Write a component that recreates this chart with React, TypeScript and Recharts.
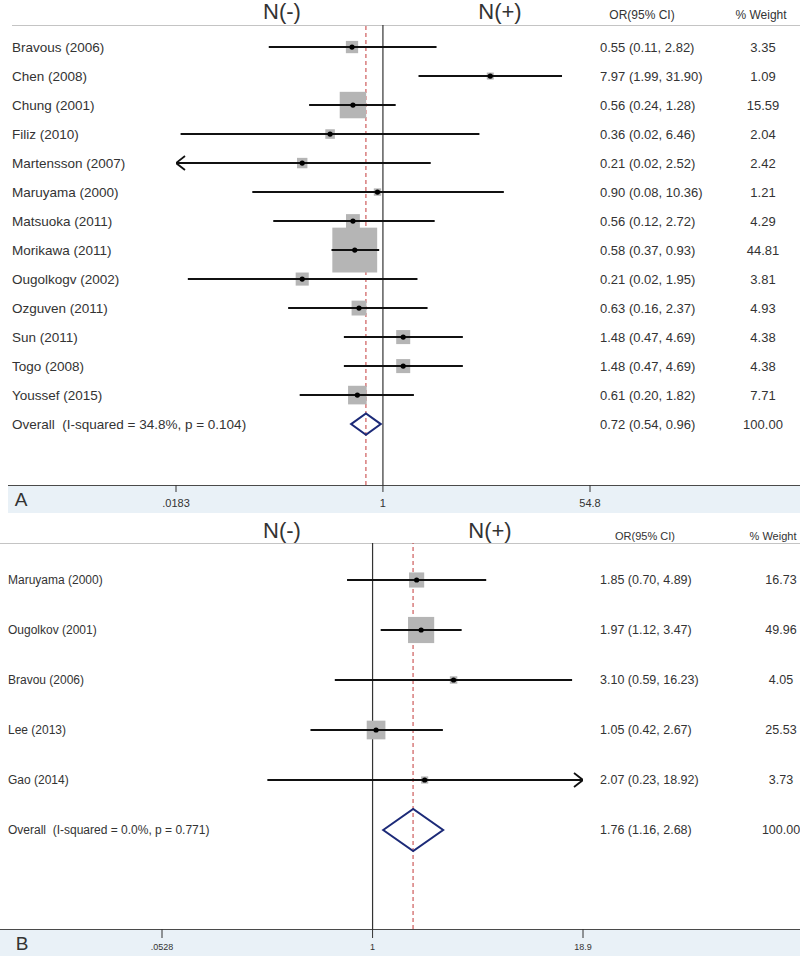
import React from 'react';
import { ComposedChart, XAxis, YAxis, Scatter, ReferenceLine, ReferenceArea } from 'recharts';

const FONT = '"Liberation Sans", Arial, Helvetica, sans-serif';
const TEXT = '#333';

// ---- panel A
const studiesA = [
  'Bravous (2006)', 'Chen (2008)', 'Chung (2001)', 'Filiz (2010)', 'Martensson (2007)',
  'Maruyama (2000)', 'Matsuoka (2011)', 'Morikawa (2011)', 'Ougolkogv (2002)', 'Ozguven (2011)',
  'Sun (2011)', 'Togo (2008)', 'Youssef (2015)',
];
const orA = [0.55, 7.97, 0.56, 0.36, 0.21, 0.9, 0.56, 0.58, 0.21, 0.63, 1.48, 1.48, 0.61];
// limits are printed rounded; Martensson / Ougolkogv lower ends
const lowA = [0.11, 1.99, 0.24, 0.02, 0.017, 0.08, 0.12, 0.37, 0.023, 0.16, 0.47, 0.47, 0.2];
const highA = [2.82, 31.9, 1.28, 6.46, 2.52, 10.36, 2.72, 0.93, 1.95, 2.37, 4.69, 4.69, 1.82];
const weightA = [3.35, 1.09, 15.59, 2.04, 2.42, 1.21, 4.29, 44.81, 3.81, 4.93, 4.38, 4.38, 7.71];
const overallA = { label: 'Overall  (I-squared = 34.8%, p = 0.104)', or: 0.72, low: 0.54, high: 0.96, weight: 100 };
const ticksA = [0.0183, 1, 54.8];

// ---- panel B
const studiesB = ['Maruyama (2000)', 'Ougolkov (2001)', 'Bravou (2006)', 'Lee (2013)', 'Gao (2014)'];
const orB = [1.85, 1.97, 3.1, 1.05, 2.07];
const lowB = [0.7, 1.12, 0.59, 0.42, 0.23];
const highB = [4.89, 3.47, 16.23, 2.67, 18.92];
const weightB = [16.73, 49.96, 4.05, 25.53, 3.73];
const overallB = { label: 'Overall  (I-squared = 0.0%, p = 0.771)', or: 1.76, low: 1.16, high: 2.68, weight: 100 };
const ticksB = [0.0528, 1, 18.9];

type Row = { label: string; or: number; low: number; high: number; weight: number; row: number; overall?: boolean };

const buildRows = (
  studies: string[], or: number[], low: number[], high: number[], weight: number[],
  overall: { label: string; or: number; low: number; high: number; weight: number },
): Row[] => [
  ...studies.map((label, i) => ({ label, or: or[i], low: low[i], high: high[i], weight: weight[i], row: i })),
  { ...overall, row: studies.length, overall: true },
];

const rowsA = buildRows(studiesA, orA, lowA, highA, weightA, overallA);
const rowsB = buildRows(studiesB, orB, lowB, highB, weightB, overallB);

const fmt = (v: number) => v.toFixed(2);
const fmtTick = (v: number) => (v < 1 ? String(v).replace(/^0/, '') : String(v));

interface PanelCfg {
  rows: Row[];
  ticks: number[];
  letter: string;
  top: number;
  height: number;
  plotTop: number;
  axisHeight: number;
  leftWidth: number;
  rightWidth: number;
  rowDomain: [number, number];
  boxScale: number;
  diamondHalf: number;
  labelX: number;
  labelSize: number;
  orX: number;
  weightX: number;
  textSize: number;
  negX: number;
  posX: number;
  headY: number;
  orHeadX: number;
  wHeadX: number;
  subHeadY: number;
  subHeadSize: number;
  lineLeft: number;
  bandLeft: number;
  letterX: number;
  tickFont: number;
  tickSize: number;
  tickMargin: number;
}

const Abs = ({ x, y, size, children, narrow }: { x: number; y: number; size: number; children: React.ReactNode; narrow?: boolean }) => (
  <div
    style={{
      position: 'absolute', left: x, top: y, transform: 'translate(-50%, -50%)',
      fontSize: size, lineHeight: 1, whiteSpace: 'nowrap', color: TEXT,
      fontFamily: narrow ? `"Liberation Sans Narrow", ${FONT}` : FONT,
    }}
  >
    {children}
  </div>
);

const ForestPanel = ({ cfg }: { cfg: PanelCfg }) => {
  const { rows, ticks } = cfg;
  const xMin = ticks[0];
  const xMax = ticks[ticks.length - 1];
  const studies = rows.filter((r) => !r.overall);
  const overall = rows.find((r) => r.overall)!;
  const arrows = studies.flatMap((r) => [
    ...(r.low < xMin ? [{ or: xMin, row: r.row, dir: -1 }] : []),
    ...(r.high > xMax ? [{ or: xMax, row: r.row, dir: 1 }] : []),
  ]);
  const rowTicks = rows.map((r) => r.row);
  const axisY = cfg.height - cfg.axisHeight;

  const leftTick = (p: any) => {
    const r = rows[p.payload?.value];
    if (!r) return <g />;
    return (
      <text x={cfg.labelX} y={p.y} dy="0.35em" textAnchor="start" fontSize={cfg.labelSize} fill={TEXT} fontFamily={FONT} style={{ whiteSpace: 'pre' }}>
        {r.label}
      </text>
    );
  };

  const rightTick = (p: any) => {
    const r = rows[p.payload?.value];
    if (!r) return <g />;
    return (
      <g>
        <text x={cfg.orX} y={p.y} dy="0.35em" textAnchor="start" fontSize={cfg.textSize} fill={TEXT} fontFamily={FONT}>
          {`${fmt(r.or)} (${fmt(r.low)}, ${fmt(r.high)})`}
        </text>
        <text x={cfg.weightX} y={p.y} dy="0.35em" textAnchor="middle" fontSize={cfg.textSize} fill={TEXT} fontFamily={FONT}>
          {fmt(r.weight)}
        </text>
      </g>
    );
  };

  const boxShape = (p: any) => {
    const d = p.payload ?? p;
    const s = Math.sqrt(d.weight) * cfg.boxScale;
    return <rect x={p.cx - s / 2} y={p.cy - s / 2} width={s} height={s} fill="#b5b5b5" />;
  };

  const dotShape = (p: any) => <circle cx={p.cx} cy={p.cy} r={2.6} fill="#000" />;

  const arrowShape = (p: any) => {
    const d = p.payload ?? p;
    const w = 9 * d.dir;
    return (
      <polyline
        points={`${p.cx - w},${p.cy - 7} ${p.cx},${p.cy} ${p.cx - w},${p.cy + 7}`}
        fill="none" stroke="#111" strokeWidth={1.8}
      />
    );
  };

  const diamondShape = (p: any) => {
    const y = p.height < 0 ? p.y + p.height : p.y;
    const h = Math.abs(p.height);
    const x = p.x;
    const w = p.width;
    return (
      <polygon
        points={`${x},${y + h / 2} ${x + w / 2},${y} ${x + w},${y + h / 2} ${x + w / 2},${y + h}`}
        fill="none" stroke="#1c2a78" strokeWidth={2}
      />
    );
  };

  return (
    <div style={{ position: 'absolute', left: 0, top: cfg.top, width: 800, height: cfg.height }}>
      <div style={{ position: 'absolute', left: cfg.lineLeft, right: 0, top: cfg.plotTop, borderTop: '1px solid #c4c4c4' }} />
      <div
        style={{
          position: 'absolute', left: cfg.bandLeft, right: 0, top: axisY, bottom: 0,
          background: '#e9f1f7', borderTop: '1.5px solid #4a4a4a',
        }}
      />
      <Abs x={cfg.negX} y={cfg.headY} size={22}>N(-)</Abs>
      <Abs x={cfg.posX} y={cfg.headY} size={22}>N(+)</Abs>
      <Abs x={cfg.orHeadX} y={cfg.subHeadY} size={cfg.subHeadSize}>OR(95% CI)</Abs>
      <Abs x={cfg.wHeadX} y={cfg.subHeadY} size={cfg.subHeadSize}>% Weight</Abs>
      <Abs x={cfg.letterX} y={axisY + cfg.axisHeight / 2} size={19} narrow>{cfg.letter}</Abs>

      <div style={{ position: 'absolute', left: 0, top: 0 }}>
        <ComposedChart width={800} height={cfg.height} margin={{ top: cfg.plotTop, right: 0, bottom: 0, left: 0 }}>
          <XAxis
            type="number"
            dataKey="or"
            scale="log"
            domain={[xMin, xMax]}
            allowDataOverflow
            ticks={ticks}
            interval={0}
            tickFormatter={fmtTick}
            axisLine={false}
            tickLine={{ stroke: '#333' }}
            tickSize={cfg.tickSize}
            tickMargin={cfg.tickMargin}
            height={cfg.axisHeight}
            tick={{ fontSize: cfg.tickFont, fill: TEXT, fontFamily: FONT }}
          />
          <YAxis
            yAxisId="left"
            type="number"
            dataKey="row"
            domain={cfg.rowDomain}
            reversed
            allowDataOverflow
            ticks={rowTicks}
            interval={0}
            width={cfg.leftWidth}
            axisLine={false}
            tickLine={false}
            tick={leftTick}
          />
          <YAxis
            yAxisId="right"
            orientation="right"
            type="number"
            dataKey="row"
            domain={cfg.rowDomain}
            reversed
            allowDataOverflow
            ticks={rowTicks}
            interval={0}
            width={cfg.rightWidth}
            axisLine={false}
            tickLine={false}
            tick={rightTick}
          />

          <ReferenceLine yAxisId="left" x={1} stroke="#333" strokeWidth={1.2} zIndex={50} />
          <ReferenceLine yAxisId="left" x={overall.or} stroke="#c43a3a" strokeWidth={1} strokeDasharray="4 3" zIndex={50} />

          <Scatter yAxisId="left" data={studies} shape={boxShape} isAnimationActive={false} zIndex={600} />

          {studies.map((r) => (
            <ReferenceLine
              key={`ci-${r.row}`}
              yAxisId="left"
              ifOverflow="visible"
              segment={[
                { x: Math.max(r.low, xMin), y: r.row },
                { x: Math.min(r.high, xMax), y: r.row },
              ]}
              stroke="#111"
              strokeWidth={2}
              zIndex={650}
            />
          ))}

          <Scatter yAxisId="left" data={studies} shape={dotShape} isAnimationActive={false} zIndex={700} />
          <Scatter yAxisId="left" data={arrows} shape={arrowShape} isAnimationActive={false} zIndex={700} />

          <ReferenceArea
            yAxisId="left"
            x1={overall.low}
            x2={overall.high}
            y1={overall.row - cfg.diamondHalf}
            y2={overall.row + cfg.diamondHalf}
            ifOverflow="visible"
            shape={diamondShape}
            zIndex={700}
          />
        </ComposedChart>
      </div>
    </div>
  );
};

const panelA: PanelCfg = {
  rows: rowsA, ticks: ticksA, letter: 'A',
  top: 0, height: 513, plotTop: 25, axisHeight: 28,
  leftWidth: 176, rightWidth: 210, rowDomain: [-0.76, 15.1],
  boxScale: 6.7, diamondHalf: 0.37,
  labelX: 12, labelSize: 13.5, orX: 600, weightX: 763, textSize: 13,
  negX: 282, posX: 500, headY: 12, orHeadX: 642, wHeadX: 761, subHeadY: 15, subHeadSize: 12,
  lineLeft: 12, bandLeft: 8, letterX: 21,
  tickFont: 11, tickSize: 7, tickMargin: 7,
};

const panelB: PanelCfg = {
  rows: rowsB, ticks: ticksB, letter: 'B',
  top: 513, height: 443, plotTop: 30, axisHeight: 27,
  leftWidth: 162, rightWidth: 217, rowDomain: [-0.74, 6.98],
  boxScale: 3.7, diamondHalf: 0.42,
  labelX: 8, labelSize: 12, orX: 600, weightX: 781, textSize: 12.5,
  negX: 282, posX: 490, headY: 18, orHeadX: 645, wHeadX: 773, subHeadY: 23, subHeadSize: 11,
  lineLeft: 0, bandLeft: 0, letterX: 22,
  tickFont: 9, tickSize: 9, tickMargin: 6,
};

export default function App() {
  return (
    <div style={{ position: 'absolute', left: 0, top: 0, width: 800, height: 956, background: '#fff', overflow: 'hidden' }}>
      <ForestPanel cfg={panelA} />
      <ForestPanel cfg={panelB} />
    </div>
  );
}
